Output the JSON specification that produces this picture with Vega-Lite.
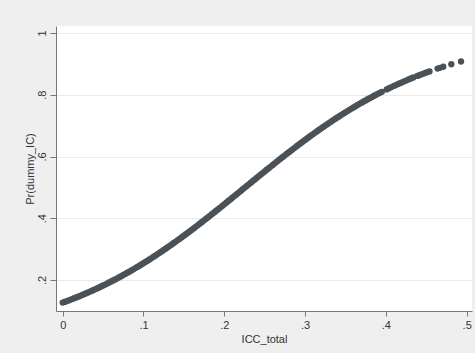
{
  "$schema": "https://vega.github.io/schema/vega-lite/v6.json",
  "autosize": "none",
  "width": 416,
  "height": 285,
  "padding": {"left": 56, "top": 26, "right": 3, "bottom": 42},
  "background": "#efefef",
  "config": {
    "view": {"fill": "white", "stroke": null},
    "font": "Liberation Sans"
  },
  "data": {
    "values": [
      {"icc": 0, "pr": 0.1268}, {"icc": 0.0025, "pr": 0.1291}, {"icc": 0.005, "pr": 0.1316}, {"icc": 0.0075, "pr": 0.134},
      {"icc": 0.01, "pr": 0.1365}, {"icc": 0.0125, "pr": 0.1391}, {"icc": 0.015, "pr": 0.1416}, {"icc": 0.0175, "pr": 0.1443},
      {"icc": 0.02, "pr": 0.1469}, {"icc": 0.0225, "pr": 0.1496}, {"icc": 0.025, "pr": 0.1524}, {"icc": 0.0275, "pr": 0.1551},
      {"icc": 0.03, "pr": 0.158}, {"icc": 0.0325, "pr": 0.1608}, {"icc": 0.035, "pr": 0.1637}, {"icc": 0.0375, "pr": 0.1667},
      {"icc": 0.04, "pr": 0.1697}, {"icc": 0.0425, "pr": 0.1727}, {"icc": 0.045, "pr": 0.1758}, {"icc": 0.0475, "pr": 0.1789},
      {"icc": 0.05, "pr": 0.1821}, {"icc": 0.0525, "pr": 0.1853}, {"icc": 0.055, "pr": 0.1885}, {"icc": 0.0575, "pr": 0.1918},
      {"icc": 0.06, "pr": 0.1951}, {"icc": 0.0625, "pr": 0.1985}, {"icc": 0.065, "pr": 0.2019}, {"icc": 0.0675, "pr": 0.2054},
      {"icc": 0.07, "pr": 0.2089}, {"icc": 0.0725, "pr": 0.2125}, {"icc": 0.075, "pr": 0.2161}, {"icc": 0.0775, "pr": 0.2197},
      {"icc": 0.08, "pr": 0.2234}, {"icc": 0.0825, "pr": 0.2271}, {"icc": 0.085, "pr": 0.2309}, {"icc": 0.0875, "pr": 0.2347},
      {"icc": 0.09, "pr": 0.2386}, {"icc": 0.0925, "pr": 0.2425}, {"icc": 0.095, "pr": 0.2464}, {"icc": 0.0975, "pr": 0.2504},
      {"icc": 0.1, "pr": 0.2545}, {"icc": 0.1025, "pr": 0.2585}, {"icc": 0.105, "pr": 0.2626}, {"icc": 0.1075, "pr": 0.2668},
      {"icc": 0.11, "pr": 0.271}, {"icc": 0.1125, "pr": 0.2753}, {"icc": 0.115, "pr": 0.2795}, {"icc": 0.1175, "pr": 0.2839},
      {"icc": 0.12, "pr": 0.2882}, {"icc": 0.1225, "pr": 0.2926}, {"icc": 0.125, "pr": 0.2971}, {"icc": 0.1275, "pr": 0.3016},
      {"icc": 0.13, "pr": 0.3061}, {"icc": 0.1325, "pr": 0.3106}, {"icc": 0.135, "pr": 0.3152}, {"icc": 0.1375, "pr": 0.3199},
      {"icc": 0.14, "pr": 0.3245}, {"icc": 0.1425, "pr": 0.3292}, {"icc": 0.145, "pr": 0.334}, {"icc": 0.1475, "pr": 0.3387},
      {"icc": 0.15, "pr": 0.3436}, {"icc": 0.1525, "pr": 0.3484}, {"icc": 0.155, "pr": 0.3533}, {"icc": 0.1575, "pr": 0.3582},
      {"icc": 0.16, "pr": 0.3631}, {"icc": 0.1625, "pr": 0.368}, {"icc": 0.165, "pr": 0.373}, {"icc": 0.1675, "pr": 0.378},
      {"icc": 0.17, "pr": 0.3831}, {"icc": 0.1725, "pr": 0.3881}, {"icc": 0.175, "pr": 0.3932}, {"icc": 0.1775, "pr": 0.3983},
      {"icc": 0.18, "pr": 0.4035}, {"icc": 0.1825, "pr": 0.4086}, {"icc": 0.185, "pr": 0.4138}, {"icc": 0.1875, "pr": 0.419},
      {"icc": 0.19, "pr": 0.4242}, {"icc": 0.1925, "pr": 0.4294}, {"icc": 0.195, "pr": 0.4347}, {"icc": 0.1975, "pr": 0.4399},
      {"icc": 0.2, "pr": 0.4452}, {"icc": 0.2025, "pr": 0.4505}, {"icc": 0.205, "pr": 0.4558}, {"icc": 0.2075, "pr": 0.4611},
      {"icc": 0.21, "pr": 0.4664}, {"icc": 0.2125, "pr": 0.4718}, {"icc": 0.215, "pr": 0.4771}, {"icc": 0.2175, "pr": 0.4824},
      {"icc": 0.22, "pr": 0.4878}, {"icc": 0.2225, "pr": 0.4931}, {"icc": 0.225, "pr": 0.4984}, {"icc": 0.2275, "pr": 0.5038},
      {"icc": 0.23, "pr": 0.5091}, {"icc": 0.2325, "pr": 0.5145}, {"icc": 0.235, "pr": 0.5198}, {"icc": 0.2375, "pr": 0.5251},
      {"icc": 0.24, "pr": 0.5305}, {"icc": 0.2425, "pr": 0.5358}, {"icc": 0.245, "pr": 0.5411}, {"icc": 0.2475, "pr": 0.5464},
      {"icc": 0.25, "pr": 0.5517}, {"icc": 0.2525, "pr": 0.557}, {"icc": 0.255, "pr": 0.5622}, {"icc": 0.2575, "pr": 0.5675},
      {"icc": 0.26, "pr": 0.5727}, {"icc": 0.2625, "pr": 0.578}, {"icc": 0.265, "pr": 0.5832}, {"icc": 0.2675, "pr": 0.5883},
      {"icc": 0.27, "pr": 0.5935}, {"icc": 0.2725, "pr": 0.5987}, {"icc": 0.275, "pr": 0.6038}, {"icc": 0.2775, "pr": 0.6089},
      {"icc": 0.28, "pr": 0.614}, {"icc": 0.2825, "pr": 0.619}, {"icc": 0.285, "pr": 0.624}, {"icc": 0.2875, "pr": 0.629},
      {"icc": 0.29, "pr": 0.634}, {"icc": 0.2925, "pr": 0.639}, {"icc": 0.295, "pr": 0.6439}, {"icc": 0.2975, "pr": 0.6488},
      {"icc": 0.3, "pr": 0.6536}, {"icc": 0.3025, "pr": 0.6584}, {"icc": 0.305, "pr": 0.6632}, {"icc": 0.3075, "pr": 0.668},
      {"icc": 0.31, "pr": 0.6727}, {"icc": 0.3125, "pr": 0.6774}, {"icc": 0.315, "pr": 0.6821}, {"icc": 0.3175, "pr": 0.6867},
      {"icc": 0.32, "pr": 0.6913}, {"icc": 0.3225, "pr": 0.6958}, {"icc": 0.325, "pr": 0.7003}, {"icc": 0.3275, "pr": 0.7048},
      {"icc": 0.33, "pr": 0.7092}, {"icc": 0.3325, "pr": 0.7136}, {"icc": 0.335, "pr": 0.7179}, {"icc": 0.3375, "pr": 0.7222},
      {"icc": 0.34, "pr": 0.7265}, {"icc": 0.3425, "pr": 0.7307}, {"icc": 0.345, "pr": 0.7349}, {"icc": 0.3475, "pr": 0.7391},
      {"icc": 0.35, "pr": 0.7432}, {"icc": 0.3525, "pr": 0.7472}, {"icc": 0.355, "pr": 0.7512}, {"icc": 0.3575, "pr": 0.7552},
      {"icc": 0.36, "pr": 0.7591}, {"icc": 0.3625, "pr": 0.763}, {"icc": 0.365, "pr": 0.7669}, {"icc": 0.3675, "pr": 0.7707},
      {"icc": 0.37, "pr": 0.7744}, {"icc": 0.3725, "pr": 0.7781}, {"icc": 0.375, "pr": 0.7818}, {"icc": 0.3775, "pr": 0.7854},
      {"icc": 0.38, "pr": 0.789}, {"icc": 0.3825, "pr": 0.7926}, {"icc": 0.385, "pr": 0.796}, {"icc": 0.3875, "pr": 0.7995},
      {"icc": 0.39, "pr": 0.8029}, {"icc": 0.3925, "pr": 0.8063}, {"icc": 0.395, "pr": 0.8096},
      {"icc": 0.401, "pr": 0.8174}, {"icc": 0.404, "pr": 0.8212}, {"icc": 0.407, "pr": 0.8249}, {"icc": 0.41, "pr": 0.8286},
      {"icc": 0.413, "pr": 0.8322}, {"icc": 0.416, "pr": 0.8357}, {"icc": 0.419, "pr": 0.8392}, {"icc": 0.422, "pr": 0.8427},
      {"icc": 0.425, "pr": 0.846}, {"icc": 0.428, "pr": 0.8493}, {"icc": 0.431, "pr": 0.8526}, {"icc": 0.434, "pr": 0.8558},
      {"icc": 0.439, "pr": 0.861}, {"icc": 0.442, "pr": 0.864}, {"icc": 0.445, "pr": 0.867}, {"icc": 0.448, "pr": 0.8699},
      {"icc": 0.451, "pr": 0.8728}, {"icc": 0.454, "pr": 0.8756}, {"icc": 0.464, "pr": 0.8847}, {"icc": 0.467, "pr": 0.8872},
      {"icc": 0.471, "pr": 0.8906}, {"icc": 0.481, "pr": 0.8987}, {"icc": 0.493, "pr": 0.9076}
    ]
  },
  "mark": {"type": "circle", "size": 40, "color": "#4b5257", "opacity": 1},
  "encoding": {
    "x": {
      "field": "icc", "type": "quantitative", "title": "ICC_total",
      "scale": {"domain": [-0.0083, 0.5066], "nice": false, "zero": false},
      "axis": {
        "values": [0, 0.1, 0.2, 0.3, 0.4, 0.5],
        "labelExpr": "datum.value == 0 ? '0' : replace(format(datum.value, '.1f'), '0.', '.')",
        "grid": false, "domainColor": "#777777", "tickColor": "#777777",
        "tickSize": 5, "labelPadding": 3, "labelFontSize": 11, "labelColor": "#333333",
        "titleFontSize": 11, "titleFontWeight": "normal", "titleColor": "#333333", "titlePadding": 3,
        "labelFlush": false
      }
    },
    "y": {
      "field": "pr", "type": "quantitative", "title": "Pr(dummy_IC)",
      "scale": {"domain": [0.0996, 1.0227], "nice": false, "zero": false},
      "axis": {
        "values": [0.2, 0.4, 0.6, 0.8, 1],
        "labelExpr": "datum.value == 1 ? '1' : replace(format(datum.value, '.1f'), '0.', '.')",
        "grid": true, "gridColor": "#eaeaea", "gridWidth": 1,
        "domainColor": "#777777", "tickColor": "#777777",
        "tickSize": 6, "labelAngle": -90, "labelAlign": "center", "labelBaseline": "bottom",
        "labelPadding": 3, "labelFontSize": 11, "labelColor": "#333333",
        "titleFontSize": 11, "titleFontWeight": "normal", "titleColor": "#333333", "titlePadding": 1,
        "labelFlush": false
      }
    }
  }
}
